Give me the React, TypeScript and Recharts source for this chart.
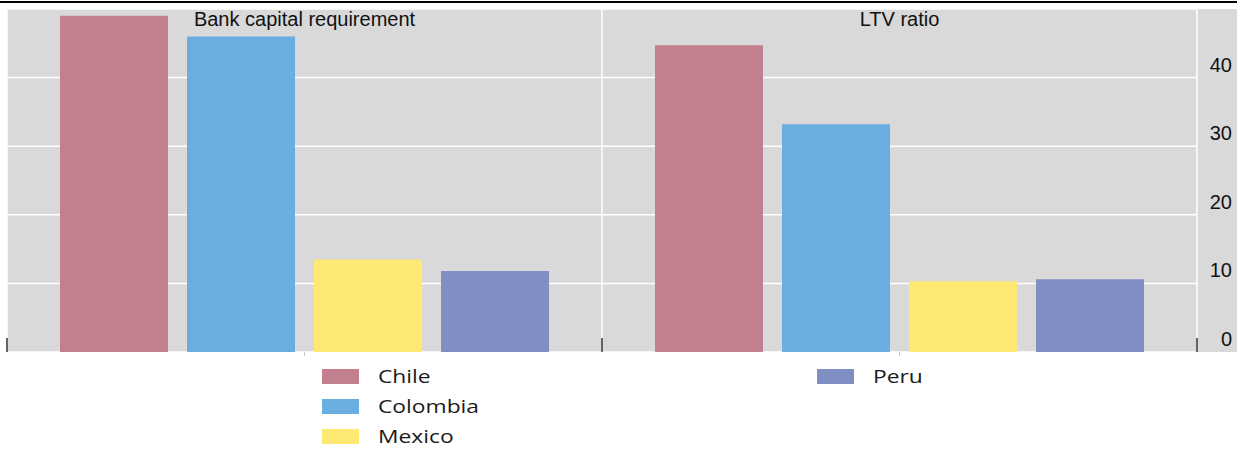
import { BarChart, Bar, XAxis, YAxis, CartesianGrid } from "recharts";

// categories (one panel each) and the values per country
const categories = ["Bank capital requirement", "LTV ratio"];
const chile = [49.0, 44.7];
const colombia = [46.0, 33.2];
const mexico = [13.5, 10.3];
const peru = [11.8, 10.6];
const yTicks = [0, 10, 20, 30, 40];

const series = [
  { key: "Chile", values: chile, color: "#C27F8E" },
  { key: "Colombia", values: colombia, color: "#6AADE0" },
  { key: "Mexico", values: mexico, color: "#FFE975" },
  { key: "Peru", values: peru, color: "#818EC4" },
];

const data = categories.map((name, i) => {
  const row: { [k: string]: string | number } = { name };
  series.forEach((s) => (row[s.key] = s.values[i]));
  return row;
});

const W = 1237;
const H = 452;
const TOP = 9;
const LEFT = 7;
const BOTTOM = 100;
const AXIS_W = 40;
const PLOT_BOTTOM = H - BOTTOM;

const FONT = "'Liberation Sans', Arial, sans-serif";

// category tick: panel title at the top, white separators and dark marks on the band edges
const CategoryTick = ({ x, payload, index }: any) => {
  const half = payload.offset || 0;
  const edges = [x - half];
  if (index === categories.length - 1) edges.push(x + half);
  return (
    <g>
      {edges.map((ex) => (
        <g key={ex}>
          <line x1={ex} x2={ex} y1={TOP} y2={PLOT_BOTTOM} stroke="#fff" strokeWidth={1.5} />
          <line x1={ex} x2={ex} y1={PLOT_BOTTOM - 14} y2={PLOT_BOTTOM} stroke="#333" strokeWidth={1.5} />
        </g>
      ))}
      <line x1={x} x2={x} y1={PLOT_BOTTOM} y2={PLOT_BOTTOM + 4} stroke="#c8c8c8" />
      <text x={x} y={TOP + 17} textAnchor="middle" fontSize={20} fontFamily={FONT} fill="#111">
        {payload.value}
      </text>
    </g>
  );
};

const ValueTick = ({ y, payload }: any) => (
  <text
    x={W - 5}
    y={y - 13}
    textAnchor="end"
    dominantBaseline="central"
    fontSize={20}
    fontFamily={FONT}
    fill="#111"
  >
    {payload.value}
  </text>
);

// legend: first three in one column, Peru in a second column
const legendPos = [
  { x: 322, y: 369 },
  { x: 322, y: 399 },
  { x: 322, y: 429 },
  { x: 817, y: 369 },
];

export default function App() {
  return (
    <div style={{ position: "relative", width: W, height: H, background: "#fff" }}>
      <style>{`body{margin:0}`}</style>
      <div style={{ position: "absolute", left: 0, top: 1, width: W, height: 2, background: "#000" }} />
      <div
        style={{
          position: "absolute",
          left: LEFT,
          top: TOP,
          width: W - LEFT,
          height: PLOT_BOTTOM - TOP,
          background: "#D9D9D9",
        }}
      />
      <div style={{ position: "absolute", left: 0, top: 0 }}>
        <BarChart
          width={W}
          height={H}
          data={data}
          margin={{ top: TOP, right: 0, left: LEFT, bottom: BOTTOM - 1 }}
          barCategoryGap={53}
          barGap={19}
        >
          <CartesianGrid vertical={false} stroke="#fff" strokeWidth={1.5} />
          <XAxis
            dataKey="name"
            height={1}
            axisLine={false}
            tickLine={false}
            tick={CategoryTick}
            interval={0}
          />
          <YAxis
            orientation="right"
            width={AXIS_W}
            domain={[0, 50]}
            ticks={yTicks}
            axisLine={false}
            tickLine={false}
            tick={ValueTick}
          />
          {series.map((s) => (
            <Bar key={s.key} dataKey={s.key} fill={s.color} isAnimationActive={false} />
          ))}
        </BarChart>
      </div>
      {series.map((s, i) => (
        <div
          key={s.key}
          style={{
            position: "absolute",
            left: legendPos[i].x,
            top: legendPos[i].y,
            height: 15,
            display: "flex",
            alignItems: "center",
            whiteSpace: "nowrap",
          }}
        >
          <span style={{ display: "inline-block", width: 37, height: 15, background: s.color }} />
          <span
            style={{
              marginLeft: 19,
              fontFamily: "'Open Sans', sans-serif",
              fontSize: 19,
              color: "#1a1a1a",
              transform: "scaleX(1.2)",
              transformOrigin: "left center",
              lineHeight: "15px",
            }}
          >
            {s.key}
          </span>
        </div>
      ))}
    </div>
  );
}
